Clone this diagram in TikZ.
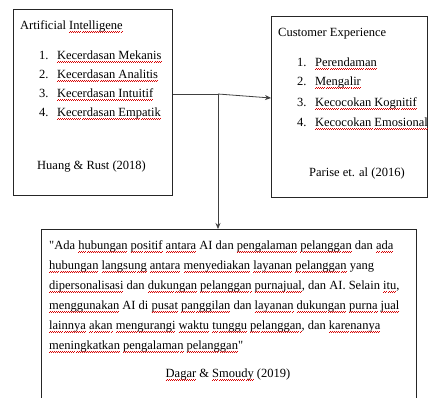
\documentclass[tikz,border=0pt]{standalone}
\usepackage{fontspec}
\setmainfont{Liberation Serif}
\newfontfamily\qfont{Liberation Serif}
\usepackage{xcolor}
\usetikzlibrary{arrows.meta}
\newsavebox\sqbox
\newcommand\sq[1]{\sbox\sqbox{#1}\rlap{\usebox\sqbox}\raisebox{-3.2pt}{\textcolor{red!85!black}{\hbox to \wd\sqbox{\xleaders\hbox to 2pt{\rule[0pt]{1pt}{0.55pt}\rule[0.55pt]{1pt}{0.55pt}}\hfill}}}}
\newcommand\dq{{\qfont\char34}}
\tikzset{
  box/.style={draw=black!85, line width=0.8pt, anchor=north west, inner sep=0pt},
  txt/.style={anchor=base west, inner sep=0pt, font=\fontsize{12.5}{14}\selectfont},
  conn/.style={draw=black!75, line width=0.8pt},
  tip/.style={-{Stealth[length=6pt,width=5pt]}}
}
\begin{document}
\begin{tikzpicture}[x=1pt,y=-1pt]
\useasboundingbox (0,0) rectangle (429,397);
\clip (0,0) rectangle (429,397);
\fill[white] (0,0) rectangle (429,397);
% boxes
\node[box, minimum width=159pt, minimum height=186pt] (ai) at (13,9) {};
\node[box, minimum width=156pt, minimum height=181pt] (ce) at (271,16) {};
\node[box, minimum width=375pt, minimum height=190pt] (q) at (41,229) {};
% box 1 text
\node[txt] (t1) at (20,29) {Artificial \sq{Intelligene}};
\node[txt] (a1) at (39,59) {1.\hspace{8.5pt}\sq{Kecerdasan Mekanis}};
\node[txt] (a2) at (39,78) {2.\hspace{8.5pt}\sq{Kecerdasan Analitis}};
\node[txt] (a3) at (39,97) {3.\hspace{8.5pt}\sq{Kecerdasan Intuitif}};
\node[txt] (a4) at (39,116) {4.\hspace{8.5pt}\sq{Kecerdasan Empatik}};
\node[txt] (r1) at (37,169) {Huang \& Rust (2018)};
% box 2 text
\node[txt] (t2) at (278,36) {Customer Experience};
\node[txt] (c1) at (297,66) {1.\hspace{8.5pt}\sq{Perendaman}};
\node[txt] (c2) at (297,85) {2.\hspace{8.5pt}\sq{Mengalir}};
\node[txt] (c3) at (297,106) {3.\hspace{8.5pt}\sq{Kecocokan Kognitif}};
\node[txt] (c4) at (297,126) {4.\hspace{8.5pt}\sq{Kecocokan Emosional}};
\node[txt] (r2) at (309,176) {Parise et. al (2016)};
% box 3 text
\node[txt] (l1) at (49,249) {\dq Ada \sq{hubungan} \sq{positif} \sq{antara} AI dan \sq{pengalaman} \sq{pelanggan} dan \sq{ada}};
\node[txt] (l2) at (49,269) {\sq{hubungan} \sq{langsung} \sq{antara} \sq{menyediakan} \sq{layanan} \sq{pelanggan} yang};
\node[txt] (l3) at (49,289) {\sq{dipersonalisasi} dan \sq{dukungan} \sq{pelanggan} \sq{purnajual}, dan AI. Selain \sq{itu},};
\node[txt] (l4) at (49,309) {\sq{menggunakan} AI di \sq{pusat} \sq{panggilan} dan \sq{layanan} \sq{dukungan} \sq{purna} \sq{jual}};
\node[txt] (l5) at (49,329) {\sq{lainnya} \sq{akan} \sq{mengurangi} \sq{waktu} \sq{tunggu} \sq{pelanggan}, dan \sq{karenanya}};
\node[txt] (l6) at (49,349) {\sq{meningkatkan} \sq{pengalaman} \sq{pelanggan}\dq};
\node[txt, anchor=base] (r3) at (228,377) {\sq{Dagar} \& \sq{Smoudy} (2019)};
% connectors
\coordinate (j) at (218,94);
\coordinate (ceIn) at (271,98);
\draw[conn] (ai.east |- j) -- (j);
\draw[conn, tip] (j) -- (ceIn);
\draw[conn, tip] (j) -- (j |- q.north);
\end{tikzpicture}
\end{document}
